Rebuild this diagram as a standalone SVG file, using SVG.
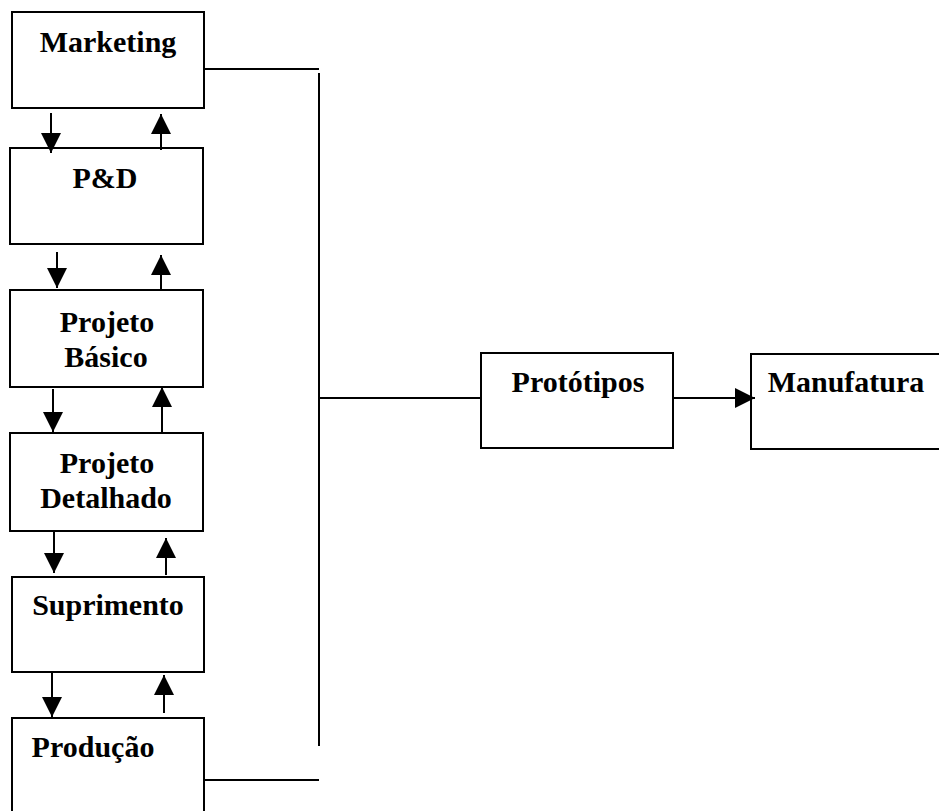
<svg xmlns="http://www.w3.org/2000/svg" width="939" height="811" viewBox="0 0 939 811">
<style>
.box{fill:#fff;stroke:#000;stroke-width:2}
.lbl{font-family:"Liberation Serif","Times New Roman",serif;font-weight:bold;font-size:30px;fill:#000;text-anchor:middle}
.ln{stroke:#000;stroke-width:2;fill:none}
.ar{stroke:#000;stroke-width:2;fill:none;marker-end:url(#ah)}
</style>
<defs>
<marker id="ah" markerUnits="userSpaceOnUse" markerWidth="20" markerHeight="20" refX="20" refY="10" orient="auto" viewBox="0 0 20 20">
<path d="M0,0 L20,10 L0,20 z" fill="#000"/>
</marker>
</defs>
<rect width="939" height="811" fill="#fff"/>
<g id="marketing"><rect class="box" x="12" y="12" width="192" height="96"/><text class="lbl" x="108" y="52">Marketing</text></g>
<g id="pd"><rect class="box" x="10" y="148" width="193" height="96"/><text class="lbl" x="105" y="188">P&amp;D</text></g>
<g id="projeto-basico"><rect class="box" x="10" y="290" width="193" height="97"/><text class="lbl" x="107" y="332">Projeto</text><text class="lbl" x="106" y="367">Básico</text></g>
<g id="projeto-detalhado"><rect class="box" x="10" y="433" width="193" height="98"/><text class="lbl" x="107" y="473">Projeto</text><text class="lbl" x="106" y="508">Detalhado</text></g>
<g id="suprimento"><rect class="box" x="12" y="577" width="192" height="95"/><text class="lbl" x="108" y="615">Suprimento</text></g>
<g id="producao"><rect class="box" x="12" y="718" width="192" height="110"/><text class="lbl" x="93" y="757">Produção</text></g>
<g id="prototipos"><rect class="box" x="481" y="353" width="192" height="95"/><text class="lbl" x="578" y="392">Protótipos</text></g>
<g id="manufatura"><rect class="box" x="751" y="354" width="210" height="95"/><text class="lbl" x="846" y="392">Manufatura</text></g>
<g id="connectors">
<line class="ar" x1="51" y1="113" x2="51" y2="153"/>
<line class="ar" x1="161" y1="150" x2="161" y2="114"/>
<line class="ar" x1="57" y1="252" x2="57" y2="288"/>
<line class="ar" x1="161" y1="290" x2="161" y2="255"/>
<line class="ar" x1="53" y1="389" x2="53" y2="432"/>
<line class="ar" x1="162" y1="432" x2="162" y2="387"/>
<line class="ar" x1="54" y1="532" x2="54" y2="573"/>
<line class="ar" x1="166" y1="575" x2="166" y2="538"/>
<line class="ar" x1="52" y1="672" x2="52" y2="717"/>
<line class="ar" x1="164" y1="713" x2="164" y2="675"/>
<line class="ln" x1="204" y1="69" x2="319" y2="69"/>
<line class="ln" x1="319" y1="73" x2="319" y2="746"/>
<line class="ln" x1="204" y1="780" x2="319" y2="780"/>
<line class="ln" x1="319" y1="398" x2="481" y2="398"/>
<line class="ar" x1="673" y1="398" x2="755" y2="398"/>
</g>
</svg>
